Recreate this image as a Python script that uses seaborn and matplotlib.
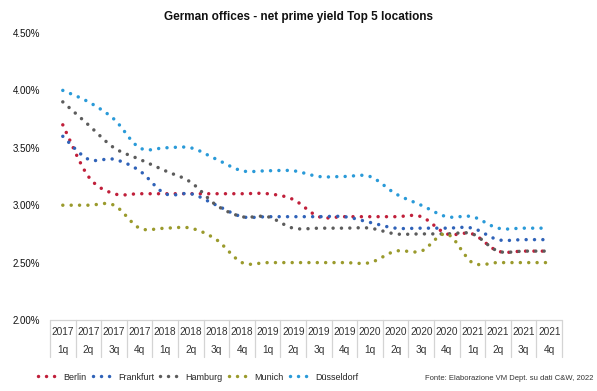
import numpy as np
import pandas as pd
import seaborn as sns
import matplotlib
matplotlib.use("Agg")
import matplotlib.pyplot as plt
from matplotlib.path import Path
from matplotlib.patches import PathPatch
from matplotlib.lines import Line2D
from matplotlib.transforms import blended_transform_factory

# Quarterly net prime office yields (%) for the five main German markets
years = ["2017"] * 4 + ["2018"] * 4 + ["2019"] * 4 + ["2020"] * 4 + ["2021"] * 4
quarters = ["1q", "2q", "3q", "4q"] * 5

berlin = [3.70, 3.25, 3.10, 3.10, 3.10, 3.10, 3.10, 3.10, 3.10, 3.05,
          2.90, 2.90, 2.90, 2.90, 2.90, 2.75, 2.75, 2.60, 2.60, 2.60]
frankfurt = [3.60, 3.40, 3.40, 3.30, 3.10, 3.10, 3.00, 2.90, 2.90, 2.90,
             2.90, 2.90, 2.85, 2.80, 2.80, 2.80, 2.80, 2.70, 2.70, 2.70]
hamburg = [3.90, 3.70, 3.50, 3.40, 3.30, 3.20, 3.00, 2.90, 2.90, 2.80,
           2.80, 2.80, 2.80, 2.75, 2.75, 2.75, 2.75, 2.60, 2.60, 2.60]
munich = [3.00, 3.00, 3.00, 2.80, 2.80, 2.80, 2.70, 2.50, 2.50, 2.50,
          2.50, 2.50, 2.50, 2.60, 2.60, 2.75, 2.50, 2.50, 2.50, 2.50]
duesseldorf = [4.00, 3.90, 3.75, 3.50, 3.50, 3.50, 3.40, 3.30, 3.30, 3.30,
               3.25, 3.25, 3.25, 3.10, 3.00, 2.90, 2.90, 2.80, 2.80, 2.80]

locations = ["Berlin", "Frankfurt", "Hamburg", "Munich", "Düsseldorf"]
series = [berlin, frankfurt, hamburg, munich, duesseldorf]
y_ticks = [2.0, 2.5, 3.0, 3.5, 4.0, 4.5]

title = "German offices - net prime yield Top 5 locations"
source = "Fonte: Elaborazione VM Dept. su dati C&W, 2022"

sns.set_theme(style="white")
plt.rcParams["font.family"] = ["Liberation Sans", "DejaVu Sans"]
palette = sns.color_palette(["#c01f3a", "#2f62b8", "#5c5c5c", "#9a9a2c", "#2a9ad8"])

df = pd.DataFrame({"period": np.arange(len(years))})
for name, vals in zip(locations, series):
    df[name] = vals


def smooth_path(xs, ys):
    """Cubic Bezier path through the points (spreadsheet-style smoothed line)."""
    pts = np.column_stack([xs, ys]).astype(float)
    n = len(pts)
    verts = [pts[0]]
    codes = [Path.MOVETO]
    for i in range(n - 1):
        p0 = pts[i - 1] if i > 0 else pts[i]
        p1 = pts[i]
        p2 = pts[i + 1]
        p3 = pts[i + 2] if i + 2 < n else pts[i + 1]
        verts += [p1 + (p2 - p0) / 6.0, p2 - (p3 - p1) / 6.0, p2]
        codes += [Path.CURVE4] * 3
    return Path(verts, codes)


W, H = 597, 391
fig = plt.figure(figsize=(W / 100, H / 100), dpi=100)
ax = fig.add_axes([50 / W, 71 / H, 512 / W, 287 / H])

dot_style = (0, (0.01, 2.4))
for name, color in zip(locations, palette):
    path = smooth_path(df["period"], df[name])
    ax.add_patch(PathPatch(path, fill=False, edgecolor=color, lw=2.5,
                           linestyle=dot_style, capstyle="round", zorder=3))

ax.set_xlim(-0.5, len(years) - 0.5)
ax.set_ylim(2.0, 4.5)
ax.set_yticks(y_ticks, labels=[f"{v:.2f}%" for v in y_ticks])
ax.tick_params(axis="y", length=0, pad=7, labelsize=7, labelcolor="#111111")
ax.set_xticks(df["period"], labels=[f"{y}\n{q}" for y, q in zip(years, quarters)])
ax.tick_params(axis="x", length=0, pad=5, labelsize=7.3, labelcolor="#333333")
for lab in ax.get_xticklabels():
    lab.set_linespacing(1.95)
sns.despine(ax=ax, left=True, bottom=True, top=True, right=True)
ax.grid(False)

# category table lines below the plotting area
trans = blended_transform_factory(ax.transData, ax.transAxes)
tbl_depth = 37 / 287
ax.plot([-0.5, len(years) - 0.5], [0, 0], transform=trans, color="#d4d4d4",
        lw=0.9, clip_on=False)
for b in np.arange(-0.5, len(years), 1.0):
    ax.plot([b, b], [0, -tbl_depth], transform=trans, color="#d4d4d4",
            lw=0.9, clip_on=False)

fig.text(298 / W, 1 - 17 / H, title, ha="center", va="center",
         fontsize=8.5, fontweight="bold", color="#111111")

handles = [Line2D([], [], color=c, lw=2.5, linestyle=(0, (0.01, 2.3)),
                  dash_capstyle="round") for c in palette]
fig.legend(handles, locations, loc="center left",
           bbox_to_anchor=(38 / W, 1 - 377 / H), ncol=5, frameon=False,
           fontsize=6.5, handlelength=2.2, handletextpad=0.6,
           columnspacing=0.7, borderpad=0, borderaxespad=0)

fig.text(593 / W, 1 - 378 / H, source, ha="right", va="center",
         fontsize=5.5, color="#333333")

fig.savefig("out.png", dpi=100, facecolor="white")
